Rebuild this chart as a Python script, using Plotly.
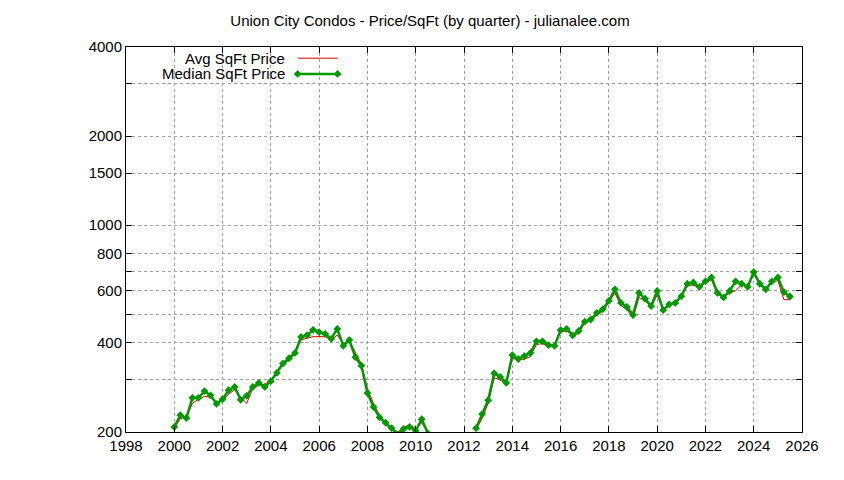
import plotly.graph_objects as go

med_a = [208,228,223,261,261,275,266,249,258,277,284,257,265,284,293,284,297,317,341,355,370,419,425,443,435,429,413,446,391,409,358,335,271,243,224,215,206,196,205,208,202,221,198,
         190,185,180,178,175,180,185,190]
avg_a = [206,222,224,250,258,264,262,252,255,268,278,262,250,280,288,290,300,320,338,350,368,410,415,420,420,420,410,425,398,405,372,340,280,250,228,212,205,200,207,212,205,215,200,
         190,185,180,178,175,180,185,190]
med_b = [206,230,256,316,307,293,364,353,361,370,405,405,393,391,442,446,424,439,472,480,505,520,555,607,546,529,497,590,564,533,599,516,540,546,575,634,640,619,646,666,590,570,599,646,634,619,694,634,607,646,666,594,574]
avg_b = [204,222,250,305,300,290,355,352,352,360,395,398,390,390,435,440,425,430,468,475,498,512,548,590,535,518,485,570,555,530,580,520,535,545,570,625,628,612,640,655,585,578,590,600,630,615,685,630,605,640,650,560,560]

x_a = [2000 + 0.25*i for i in range(len(med_a))]
x_b = [2012.5 + 0.25*i for i in range(len(med_b))]
x = x_a + [None] + x_b
med = med_a + [None] + med_b
avg = avg_a + [None] + avg_b

yticks = [200,300,400,500,600,700,800,1000,1500,2000,3000,4000]
ytext = ["200","","400","","600","","800","1000","1500","2000","","4000"]

F = dict(family="Liberation Sans", size=15, color="black")

fig = go.Figure()
fig.add_trace(go.Scatter(x=x, y=avg, mode="lines", line=dict(color="#dd0000", width=1), connectgaps=False, showlegend=False))
fig.add_trace(go.Scatter(x=x, y=med, mode="lines+markers", line=dict(color="#009900", width=2.5),
                         marker=dict(size=6, color="#009900", symbol="diamond"), connectgaps=False, showlegend=False))

ax = dict(showline=True, linecolor="black", linewidth=1, mirror="allticks", ticks="inside", ticklen=6,
          tickcolor="black", showgrid=True, gridcolor="#a0a0a0", griddash="dot", gridwidth=1, zeroline=False,
          tickfont=F)
fig.update_xaxes(**ax, range=[1998, 2026], tickvals=list(range(1998, 2027, 2)))
fig.update_yaxes(**ax, type="log", range=[2.30103, 3.60206], tickvals=yticks, ticktext=ytext)

fig.update_layout(
    width=844, height=480, plot_bgcolor="white", paper_bgcolor="white",
    margin=dict(l=118, r=50, t=39, b=56, autoexpand=False),
    title=dict(text="Union City Condos - Price/SqFt (by quarter) - julianalee.com", x=0.5, xanchor="center",
               y=0.985, yanchor="top", font=F),
    font=F,
)
for txt, yy in [("Avg SqFt Price", 0.971), ("Median SqFt Price", 0.930)]:
    fig.add_annotation(text=txt, xref="paper", yref="paper", x=0.238, y=yy, xanchor="right", yanchor="middle",
                       showarrow=False, font=F)
fig.add_shape(type="line", xref="paper", yref="paper", x0=0.254, x1=0.313, y0=0.971, y1=0.971, line=dict(color="#dd0000", width=1))
fig.add_shape(type="line", xref="paper", yref="paper", x0=0.254, x1=0.313, y0=0.930, y1=0.930, line=dict(color="#009900", width=2.5))
fig.add_trace(go.Scatter(x=[0.254, 0.313], y=[0.930, 0.930], xaxis="x2", yaxis="y2", mode="markers",
                         marker=dict(size=6, color="#009900", symbol="diamond"), showlegend=False))
fig.update_layout(xaxis2=dict(range=[0, 1], overlaying="x", visible=False), yaxis2=dict(range=[0, 1], overlaying="y", visible=False))

fig.write_html("out.html")
